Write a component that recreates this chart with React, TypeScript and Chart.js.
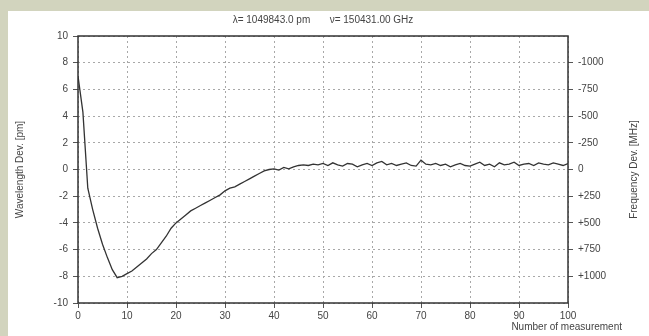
import React, { useEffect, useRef } from "react";
import { Chart, registerables } from "chart.js";

Chart.register(...registerables);

// Wavelength deviation [pm] for measurement numbers 0..100
const wavelengthDev = [
  7.0, 4.3, -1.4, -3.0, -4.4, -5.6, -6.6, -7.5, -8.1, -8.0,
  -7.8, -7.6, -7.3, -7.0, -6.7, -6.3, -6.0, -5.5, -5.0, -4.4,
  -4.0, -3.7, -3.4, -3.1, -2.9, -2.7, -2.5, -2.3, -2.1, -1.9,
  -1.6, -1.4, -1.3, -1.1, -0.9, -0.7, -0.5, -0.3, -0.1, 0.0,
  0.05, -0.05, 0.15, 0.05, 0.2, 0.3, 0.35, 0.3, 0.4, 0.35,
  0.45, 0.3, 0.5, 0.35, 0.25, 0.45, 0.4, 0.2, 0.35, 0.45,
  0.3, 0.5, 0.6, 0.35, 0.45, 0.3, 0.4, 0.5, 0.3, 0.25,
  0.7, 0.4, 0.35, 0.45, 0.3, 0.4, 0.2, 0.35, 0.45, 0.3,
  0.25, 0.4, 0.55, 0.3, 0.4, 0.2, 0.5, 0.35, 0.4, 0.55,
  0.3, 0.4, 0.45, 0.3, 0.5, 0.4, 0.35, 0.5, 0.4, 0.3,
  0.45,
];

const freqTickValues = [8, 6, 4, 2, 0, -2, -4, -6, -8];
const freqTickLabels = ["-1000", "-750", "-500", "-250", "0", "+250", "+500", "+750", "+1000"];

const chartTitle = "\u03bb= 1049843.0 pm       \u03bd= 150431.00 GHz";
const xTitle = "Number of measurement";
const yTitle = "Wavelength Dev. [pm]";
const y2Title = "Frequency Dev. [MHz]";

const FONT_FAMILY = '"Liberation Sans", Arial, sans-serif';
const TEXT_COLOR = "#444";

export default function App() {
  const canvasRef = useRef<HTMLCanvasElement | null>(null);

  useEffect(() => {
    const canvas = canvasRef.current;
    if (!canvas) return;

    const points = wavelengthDev.map((v, i) => ({ x: i, y: v }));

    const framePlugin = {
      id: "frameAndTexts",
      afterDraw(chart: any) {
        const { ctx, chartArea: a } = chart;
        ctx.save();
        ctx.strokeStyle = "#333";
        ctx.lineWidth = 1.5;
        ctx.setLineDash([]);
        ctx.strokeRect(a.left, a.top, a.right - a.left, a.bottom - a.top);

        ctx.fillStyle = TEXT_COLOR;
        ctx.font = `10px ${FONT_FAMILY}`;
        ctx.textBaseline = "middle";
        ctx.textAlign = "center";
        ctx.fillText(chartTitle, (a.left + a.right) / 2, 20);

        ctx.textAlign = "right";
        ctx.fillText(xTitle, a.right + 54, a.bottom + 24);

        ctx.translate(a.right + 66, (a.top + a.bottom) / 2);
        ctx.rotate(-Math.PI / 2);
        ctx.textAlign = "center";
        ctx.fillText(y2Title, 0, 0);
        ctx.restore();
      },
    };

    const tickFont = { family: FONT_FAMILY, size: 10 };
    const gridCommon = {
      color: "#a8a8a8",
      tickColor: "#555",
      tickBorderDash: [],
      tickLength: 5,
      lineWidth: 1,
    };
    const dashedBorder = { display: false, dash: [2, 3] };

    const chart = new Chart(canvas, {
      type: "line",
      data: {
        datasets: [
          {
            data: points,
            borderColor: "#333",
            borderWidth: 1.3,
            pointRadius: 0,
            tension: 0,
            fill: false,
          },
        ],
      },
      options: {
        animation: false,
        responsive: false,
        maintainAspectRatio: false,
        layout: { padding: { top: 36, left: 0, right: 0, bottom: 0 } },
        plugins: {
          legend: { display: false },
          tooltip: { enabled: false },
          title: { display: false },
        },
        scales: {
          x: {
            type: "linear",
            min: 0,
            max: 100,
            afterFit: (s: any) => {
              s.height = 33;
            },
            ticks: { stepSize: 10, font: tickFont, color: TEXT_COLOR, padding: 2, maxRotation: 0 },
            grid: gridCommon,
            border: dashedBorder,
          },
          y: {
            type: "linear",
            position: "left",
            min: -10,
            max: 10,
            afterFit: (s: any) => {
              s.width = 78;
            },
            ticks: { stepSize: 2, font: tickFont, color: TEXT_COLOR, padding: 5 },
            grid: gridCommon,
            border: dashedBorder,
            title: {
              display: true,
              text: yTitle,
              font: { family: FONT_FAMILY, size: 10 },
              color: TEXT_COLOR,
              padding: { top: 14, bottom: 0 },
            },
          },
          y2: {
            type: "linear",
            position: "right",
            min: -10,
            max: 10,
            afterFit: (s: any) => {
              s.width = 81;
            },
            afterBuildTicks: (s: any) => {
              s.ticks = freqTickValues.map((v) => ({ value: v }));
            },
            ticks: {
              font: tickFont,
              color: TEXT_COLOR,
              padding: 5,
              callback: (value: any) => {
                const idx = freqTickValues.indexOf(Number(value));
                return idx >= 0 ? freqTickLabels[idx] : "";
              },
            },
            grid: { drawOnChartArea: false, tickColor: "#555", tickLength: 5 },
            border: { display: false },
          },
        },
      },
      plugins: [framePlugin],
    });

    return () => chart.destroy();
  }, []);

  return (
    <div
      style={{
        position: "fixed",
        left: 0,
        top: 0,
        width: 649,
        height: 336,
        background: "#d2d4be",
      }}
    >
      <div
        style={{
          position: "absolute",
          left: 8,
          top: 11,
          right: 0,
          bottom: 0,
          background: "#ffffff",
        }}
      />
      <canvas
        ref={canvasRef}
        width={649}
        height={336}
        style={{ position: "absolute", left: 0, top: 0, width: 649, height: 336 }}
      />
    </div>
  );
}
